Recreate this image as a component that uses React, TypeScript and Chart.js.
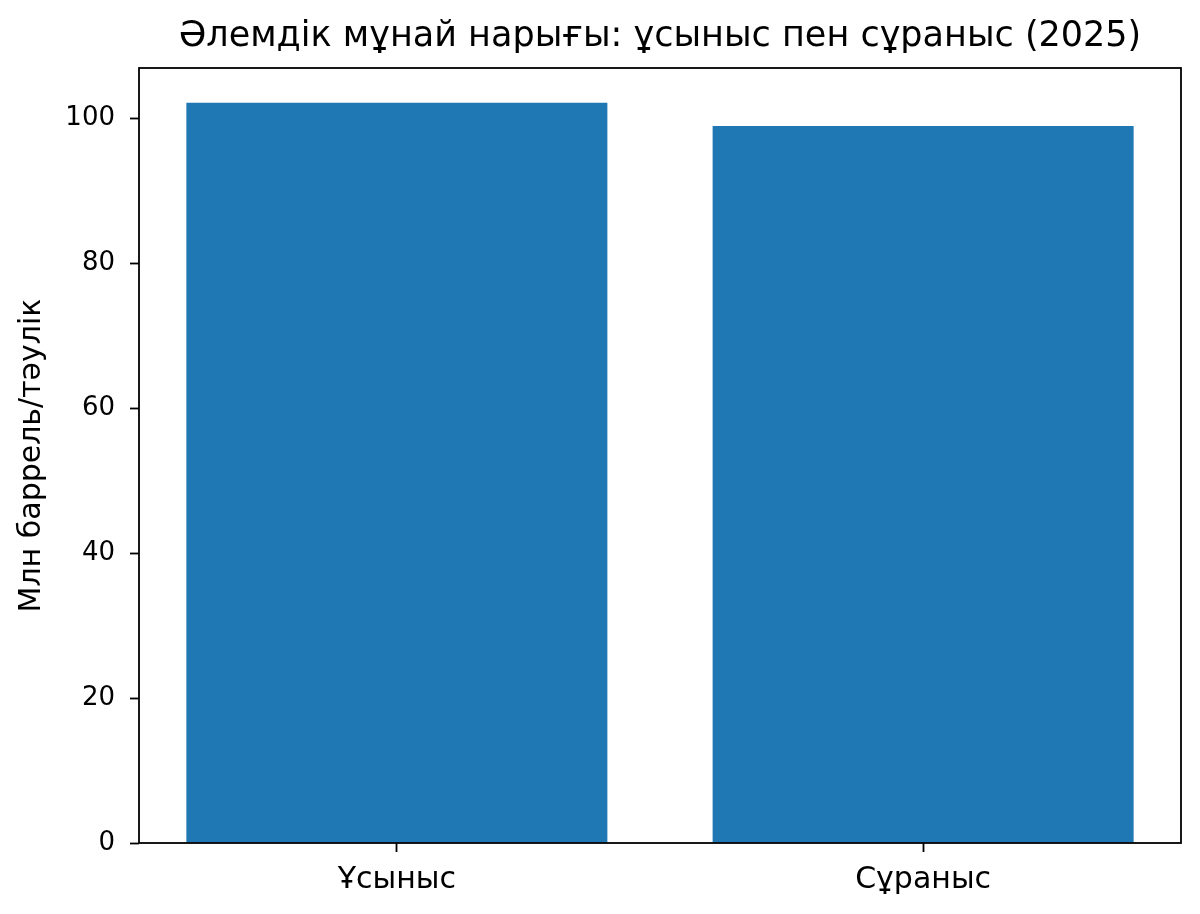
import React, { useEffect, useRef } from "react";
import { Chart, registerables } from "chart.js";

Chart.register(...registerables);

const titleText = "Әлемдік мұнай нарығы: ұсыныс пен сұраныс (2025)";
const yAxisTitle = "Млн баррель/тәулік";
const categories = ["Ұсыныс", "Сұраныс"];
const values = [102.2, 99.0];
const yTickValues = [0, 20, 40, 60, 80, 100];
const yMin = 0;
const yMax = 107.0;
const xMin = -0.49;
const xMax = 1.49;

const FONT = "'DejaVu Sans', sans-serif";
const BAR_COLOR = "#1f77b4";

const framePlugin = {
  id: "frame",
  afterDatasetsDraw(chart: any) {
    const { ctx, chartArea } = chart;
    ctx.save();
    ctx.strokeStyle = "#000";
    ctx.lineWidth = 1.8;
    ctx.strokeRect(
      chartArea.left,
      chartArea.top,
      chartArea.right - chartArea.left,
      chartArea.bottom - chartArea.top
    );
    ctx.restore();
  },
};

export default function App() {
  const ref = useRef<HTMLCanvasElement | null>(null);

  useEffect(() => {
    if (!ref.current) return;
    const chart = new Chart(ref.current, {
      type: "bar",
      data: {
        labels: categories,
        datasets: [
          {
            data: values,
            backgroundColor: BAR_COLOR,
            borderWidth: 0,
            barPercentage: 0.8,
            categoryPercentage: 1.0,
          },
        ],
      },
      plugins: [framePlugin],
      options: {
        responsive: false,
        animation: false,
        devicePixelRatio: 1,
        layout: { padding: { left: 0, right: 19, top: 0, bottom: 0 } },
        plugins: {
          legend: { display: false },
          tooltip: { enabled: false },
          title: {
            display: true,
            fullSize: false,
            text: titleText,
            color: "#000",
            font: { family: FONT, size: 35, weight: "normal" },
            padding: { top: 16, bottom: 10 },
          },
        },
        scales: {
          x: {
            type: "category",
            offset: true,
            grid: {
              display: true,
              offset: false,
              drawOnChartArea: false,
              drawTicks: true,
              tickLength: 9,
              tickWidth: 1.8,
              tickColor: "#000",
            },
            border: { display: false },
            ticks: {
              color: "#000",
              font: { family: FONT, size: 30 },
              padding: 10.6,
              maxRotation: 0,
              autoSkip: false,
            },
            afterBuildTicks: (scale: any) => {
              scale._startValue = xMin;
              scale._valueRange = xMax - xMin;
            },
            afterFit: (scale: any) => {
              scale.height = 71;
            },
          },
          y: {
            type: "linear",
            min: yMin,
            max: yMax,
            grid: {
              display: true,
              drawOnChartArea: false,
              drawTicks: true,
              tickLength: 9,
              tickWidth: 1.8,
              tickColor: "#000",
            },
            border: { display: false },
            ticks: {
              color: "#000",
              font: { family: FONT, size: 26 },
              padding: 15,
            },
            afterBuildTicks: (scale: any) => {
              scale.ticks = yTickValues.map((v) => ({ value: v }));
            },
            title: {
              display: true,
              text: yAxisTitle,
              color: "#000",
              font: { family: FONT, size: 30 },
              padding: { top: 14, bottom: 0 },
            },
            afterFit: (scale: any) => {
              scale.width = 139;
            },
          },
        },
      },
    });
    return () => chart.destroy();
  }, []);

  return (
    <canvas
      ref={ref}
      width={1200}
      height={914}
      style={{ position: "fixed", left: 0, top: 0, display: "block", background: "#fff" }}
    />
  );
}
